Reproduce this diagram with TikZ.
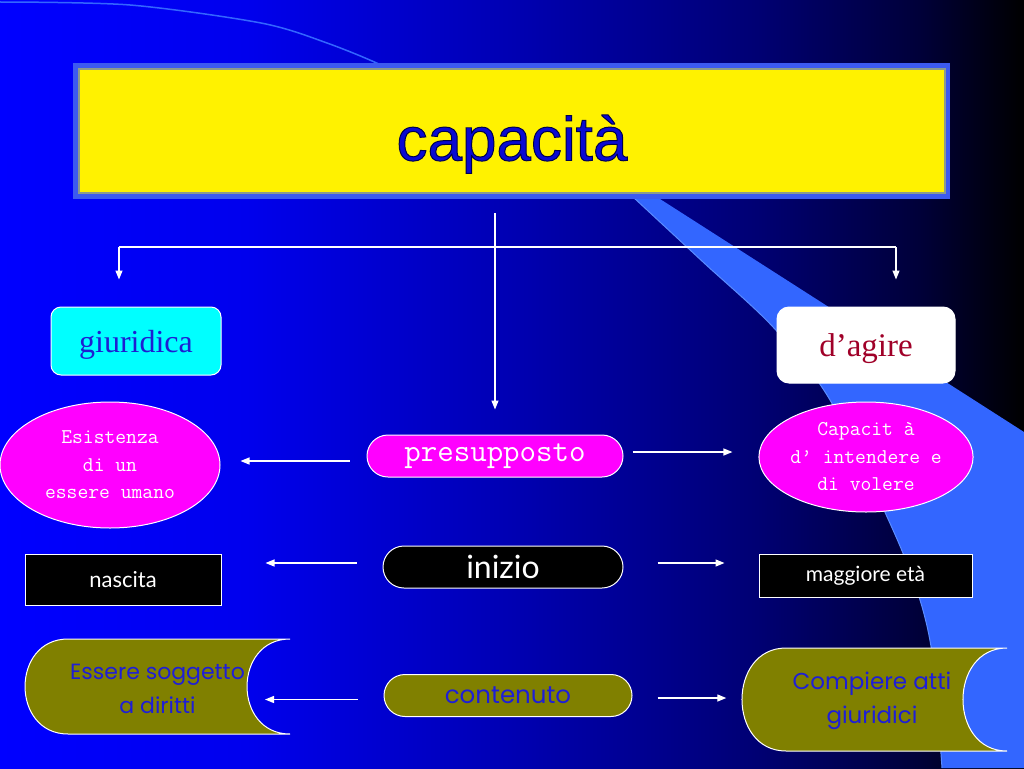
\documentclass[tikz,border=0pt]{standalone}
\usepackage{fontspec}
\setmainfont{Liberation Serif}
\newfontfamily\arialf[FakeBold=1.6]{Liberation Sans}
\newfontfamily\futf{Poppins}
\newfontfamily\tempf{Lato}
\usetikzlibrary{arrows.meta,shapes.geometric,calc}
\definecolor{swoosh}{RGB}{51,102,255}
\definecolor{swooshedge}{RGB}{90,140,255}
\definecolor{magentaA}{RGB}{255,0,255}
\definecolor{cyanA}{RGB}{0,255,255}
\definecolor{oliveA}{RGB}{128,128,0}
\definecolor{txtblue}{RGB}{30,30,215}
\definecolor{titleblue}{RGB}{10,10,210}
\definecolor{darkredA}{RGB}{160,0,40}
\definecolor{framegray}{RGB}{140,155,140}
\definecolor{bandblue}{RGB}{60,90,240}
\definecolor{giurblue}{RGB}{30,30,210}
\pgfdeclarehorizontalshading{bgsh}{100bp}{rgb(0bp)=(0,0,1); rgb(25bp)=(0,0,1); rgb(37bp)=(0,0,0.93); rgb(50bp)=(0,0,0.7); rgb(62bp)=(0,0,0.45); rgb(70bp)=(0,0,0.22); rgb(75bp)=(0,0,0); rgb(100bp)=(0,0,0)}
\begin{document}
\begin{tikzpicture}[x=1pt,y=-1pt,
  arr/.style={draw=white, line width=1.3pt, -{Triangle[length=9pt,width=7pt]}},
  wline/.style={draw=white, line width=1.3pt},
  ellnode/.style={ellipse, draw=white, line width=1pt, fill=magentaA, inner sep=0pt, text=white, align=center, font=\ttfamily\fontsize{21}{27.5}\selectfont},
  pill/.style={rounded corners=21pt, draw=white, line width=1pt, minimum height=42pt, inner sep=0pt},
  blackbox/.style={draw=white, fill=black, line width=1pt, text=white, inner sep=0pt},
  olivetext/.style={text=txtblue, align=center, inner sep=0pt},
  olivefill/.style={fill=oliveA, draw=white, line width=1pt}
]
\useasboundingbox (0,0) rectangle (1024,768);
% background
\fill[shading=bgsh] (0,0) rectangle (1024,768);
% decorative swoosh
\fill[swoosh] plot[smooth] coordinates {(633,197) (703,262) (773,327) (830,400) (893,530) (920,600) (933,660) (942,768)}
  -- (1024,768) -- (1024,432) -- (660,199) -- cycle;
\draw[swooshedge, line width=1pt] plot[smooth] coordinates {(633,197) (703,262) (773,327) (830,400) (893,530) (920,600) (933,660) (942,768)};
\draw[swoosh, line width=1.5pt] plot[smooth] coordinates {(0,2) (130,5) (261,23) (327,43) (385,67) (420,90)};
% title
\fill[bandblue] (73,63) rectangle (950,199);
\node[draw=framegray, line width=2pt, fill=yellow, minimum width=866pt, minimum height=124pt, inner sep=0pt] (title) at (512,131) {};
\node[anchor=base, text=titleblue, font=\arialf\fontsize{62}{62}\selectfont] (titletext) at (512,160.5) {\special{pdf:literal direct 0 0 0.3 RG}capacità};
% second row
\node[draw=white, line width=1pt, fill=cyanA, rounded corners=10pt, minimum width=170pt, minimum height=68pt, inner sep=0pt, text depth=0pt, text=giurblue, font=\fontsize{32}{32}\selectfont] (giur) at (136,341) {giuridica};
\node[draw=white, line width=1pt, fill=white, rounded corners=12pt, minimum width=178pt, minimum height=76pt, inner sep=0pt, text depth=0pt, text=darkredA, font=\fontsize{33}{33}\selectfont] (agire) at (866,345) {d’agire};
% presupposto row
\node[ellnode, minimum width=220pt, minimum height=126pt] (esist) at (110,465) {Esistenza\\di un\\essere umano};
\node[ellnode, minimum width=214pt, minimum height=110pt] (capd) at (866,457) {Capacit à\\d’ intendere e\\di volere};
\node[pill, fill=magentaA, minimum width=256pt, text=white, font=\ttfamily\fontsize{32}{32}\selectfont] (presup) at (495,456) {presupposto};
% inizio row
\node[pill, fill=black, minimum width=240pt, text=white, font=\tempf\fontsize{32}{32}\selectfont] (inizio) at (503,567) {inizio};
\node[blackbox, minimum width=196pt, minimum height=51pt, font=\tempf\fontsize{22}{22}\selectfont] (nasc) at (123,580) {nascita};
\node[blackbox, minimum width=213pt, minimum height=43pt, font=\tempf\fontsize{21}{21}\selectfont] (magg) at (865.5,575.5) {maggiore età};
% contenuto row
\path[olivefill] (68,639) -- (290,639) .. controls (232.7,639) and (232.7,734) .. (290,734) -- (68,734) .. controls (10.7,734) and (10.7,639) .. (68,639) -- cycle;
\path[olivefill] (786,648) -- (1007,648) .. controls (948.3,648) and (948.3,751) .. (1007,751) -- (786,751) .. controls (727.3,751) and (727.3,648) .. (786,648) -- cycle;
\node[olivetext, minimum width=265pt, minimum height=95pt, font=\futf\fontsize{22}{34}\selectfont] (ess) at (157.5,689) {Essere soggetto\\a diritti};
\node[olivetext, minimum width=265pt, minimum height=103pt, font=\futf\fontsize{23}{34}\selectfont] (comp) at (872,701) {Compiere atti\\giuridici};
\node[pill, fill=oliveA, minimum width=248pt, text=txtblue, font=\futf\fontsize{24.5}{24.5}\selectfont] (cont) at (508,695.5) {contenuto};
% connectors from title
\coordinate (bl) at (119,247);
\coordinate (br) at (896,247);
\draw[wline] (bl) -- (br);
\draw[arr, shorten >=27pt] (bl) -- (bl |- giur.north);
\draw[arr, shorten >=27pt] (br) -- (br |- agire.north);
\draw[arr, shorten <=19pt, shorten >=25pt] (presup.north |- title.south) -- (presup.north);
% horizontal arrows
\draw[arr, shorten <=17pt, shorten >=20pt] ([yshift=-5pt]presup.west) -- ([yshift=-5pt]presup.west -| esist.east);
\draw[arr, shorten <=9pt, shorten >=26pt] ([yshift=4pt]presup.east) -- ([yshift=4pt]presup.east -| capd.west);
\draw[arr, shorten <=26pt, shorten >=44pt] ([yshift=4pt]inizio.west) -- ([yshift=4pt]inizio.west -| nasc.east);
\draw[arr, shorten <=34pt, shorten >=34pt] ([yshift=4pt]inizio.east) -- ([yshift=4pt]inizio.east -| magg.west);
\draw[arr, shorten <=26pt, shorten >=107.5pt] ([yshift=-4pt]cont.west) -- ([yshift=-4pt]cont.west -| ess.center);
\draw[arr, shorten <=25pt, shorten >=13pt] ([yshift=-2.5pt]cont.east) -- ([yshift=-2.5pt]cont.east -| comp.west);
\end{tikzpicture}
\end{document}
